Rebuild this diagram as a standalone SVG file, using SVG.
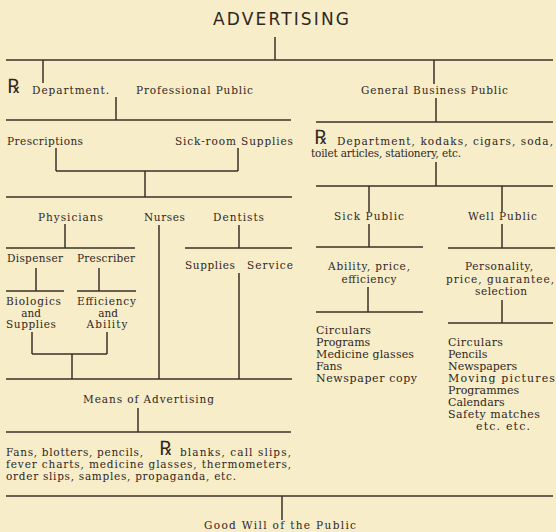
<svg xmlns="http://www.w3.org/2000/svg" width="556" height="532" viewBox="0 0 556 532">
<style>
.bg{fill:#f7edc9}
.c line{stroke:#3a3026;stroke-width:1.5;fill:none}
text{font-family:"DejaVu Serif","Liberation Serif",serif;font-size:10.5px;fill:#2f271f}
.title{font-family:"DejaVu Sans","Liberation Sans",sans-serif;font-size:17px}
.rx{font-family:"DejaVu Serif","Liberation Serif",serif;font-size:20px}
.lst{font-size:11px}
.m{text-anchor:middle}
</style>
<rect class="bg" x="0" y="0" width="556" height="532"/>
<g class="c" id="connectors">
<line x1="275" y1="37" x2="275" y2="60"/>
<line x1="6" y1="60" x2="553" y2="60"/>
<line x1="43" y1="60" x2="43" y2="83"/>
<line x1="434" y1="60" x2="434" y2="84"/>
<line x1="116" y1="97" x2="116" y2="120"/>
<line x1="6" y1="120" x2="291" y2="120"/>
<line x1="436" y1="98" x2="436" y2="122"/>
<line x1="316" y1="122" x2="553" y2="122"/>
<line x1="56" y1="148" x2="56" y2="171"/>
<line x1="238" y1="148" x2="238" y2="171"/>
<line x1="56" y1="171" x2="238" y2="171"/>
<line x1="145" y1="171" x2="145" y2="197"/>
<line x1="6" y1="197" x2="292" y2="197"/>
<line x1="65" y1="224" x2="65" y2="248"/>
<line x1="6" y1="248" x2="135" y2="248"/>
<line x1="159" y1="225" x2="159" y2="379"/>
<line x1="239" y1="225" x2="239" y2="248"/>
<line x1="185" y1="248" x2="292" y2="248"/>
<line x1="239" y1="273" x2="239" y2="379"/>
<line x1="36" y1="268" x2="36" y2="291"/>
<line x1="6" y1="291" x2="64" y2="291"/>
<line x1="99" y1="268" x2="99" y2="291"/>
<line x1="77" y1="291" x2="136" y2="291"/>
<line x1="32" y1="332" x2="32" y2="354"/>
<line x1="107" y1="332" x2="107" y2="354"/>
<line x1="32" y1="354" x2="107" y2="354"/>
<line x1="72" y1="354" x2="72" y2="379"/>
<line x1="6" y1="379" x2="292" y2="379"/>
<line x1="138" y1="408" x2="138" y2="432"/>
<line x1="6" y1="432" x2="291" y2="432"/>
<line x1="6" y1="496" x2="553" y2="496"/>
<line x1="282" y1="496" x2="282" y2="520"/>
<line x1="436" y1="162" x2="436" y2="186"/>
<line x1="316" y1="186" x2="553" y2="186"/>
<line x1="369" y1="186" x2="369" y2="212"/>
<line x1="502" y1="186" x2="502" y2="212"/>
<line x1="369" y1="224" x2="369" y2="247"/>
<line x1="316" y1="247" x2="423" y2="247"/>
<line x1="502" y1="224" x2="502" y2="248"/>
<line x1="448" y1="248" x2="555" y2="248"/>
<line x1="368" y1="287" x2="368" y2="312"/>
<line x1="316" y1="312" x2="423" y2="312"/>
<line x1="502" y1="300" x2="502" y2="323"/>
<line x1="448" y1="323" x2="553" y2="323"/>
</g>
<g id="advertising"><text class="title" x="213" y="25" textLength="136" lengthAdjust="spacing">ADVERTISING</text></g>
<g id="rx-department"><text class="rx" x="7" y="93">℞</text><text x="32" y="94" textLength="77" lengthAdjust="spacing">Department.</text></g>
<g id="professional-public"><text x="136" y="94" textLength="117" lengthAdjust="spacing">Professional Public</text></g>
<g id="general-business-public"><text x="361" y="94" textLength="147" lengthAdjust="spacing">General Business Public</text></g>
<g id="prescriptions"><text x="7" y="145" textLength="76" lengthAdjust="spacing">Prescriptions</text></g>
<g id="sick-room-supplies"><text x="175" y="145" textLength="118" lengthAdjust="spacing">Sick-room Supplies</text></g>
<g id="rx-department-general"><text class="rx" x="314" y="144">℞</text><text x="337" y="145" textLength="216" lengthAdjust="spacing">Department, kodaks, cigars, soda,</text><text x="311" y="157" textLength="150" lengthAdjust="spacing">toilet articles, stationery, etc.</text></g>
<g id="physicians"><text x="38" y="221" textLength="65" lengthAdjust="spacing">Physicians</text></g>
<g id="nurses"><text x="144" y="221" textLength="41" lengthAdjust="spacing">Nurses</text></g>
<g id="dentists"><text x="213" y="221" textLength="51" lengthAdjust="spacing">Dentists</text></g>
<g id="sick-public"><text x="334" y="220" textLength="70" lengthAdjust="spacing">Sick Public</text></g>
<g id="well-public"><text x="468" y="220" textLength="69" lengthAdjust="spacing">Well Public</text></g>
<g id="dispenser"><text x="7" y="262" textLength="56" lengthAdjust="spacing">Dispenser</text></g>
<g id="prescriber"><text x="77" y="262" textLength="58" lengthAdjust="spacing">Prescriber</text></g>
<g id="supplies"><text x="185" y="269" textLength="50" lengthAdjust="spacing">Supplies</text></g>
<g id="service"><text x="247" y="269" textLength="46" lengthAdjust="spacing">Service</text></g>
<g id="ability-price"><text class="m" x="369" y="270" textLength="82" lengthAdjust="spacing">Ability, price,</text><text class="m" x="369" y="283" textLength="55" lengthAdjust="spacing">efficiency</text></g>
<g id="personality"><text class="m" x="499" y="270" textLength="68" lengthAdjust="spacing">Personality,</text><text class="m" x="500" y="283" textLength="108" lengthAdjust="spacing">price, guarantee,</text><text class="m" x="501" y="295" textLength="52" lengthAdjust="spacing">selection</text></g>
<g id="biologics"><text x="6" y="305" textLength="55" lengthAdjust="spacing">Biologics</text><text class="m" x="31" y="317">and</text><text x="6" y="328" textLength="50" lengthAdjust="spacing">Supplies</text></g>
<g id="efficiency"><text x="77" y="305" textLength="59" lengthAdjust="spacing">Efficiency</text><text class="m" x="108" y="317">and</text><text class="m" x="107" y="328" textLength="41" lengthAdjust="spacing">Ability</text></g>
<g id="sick-list"><text class="lst" x="316" y="334" textLength="55" lengthAdjust="spacing">Circulars</text><text class="lst" x="316" y="346">Programs</text><text class="lst" x="316" y="358" textLength="98" lengthAdjust="spacing">Medicine glasses</text><text class="lst" x="316" y="370">Fans</text><text class="lst" x="316" y="382" textLength="101" lengthAdjust="spacing">Newspaper copy</text></g>
<g id="well-list"><text class="lst" x="448" y="346" textLength="55" lengthAdjust="spacing">Circulars</text><text class="lst" x="448" y="358">Pencils</text><text class="lst" x="448" y="370">Newspapers</text><text class="lst" x="448" y="382" textLength="107" lengthAdjust="spacing">Moving pictures</text><text class="lst" x="448" y="394">Programmes</text><text class="lst" x="448" y="406">Calendars</text><text class="lst" x="448" y="418" textLength="92" lengthAdjust="spacing">Safety matches</text><text class="lst" x="476" y="430" textLength="54" lengthAdjust="spacing">etc.   etc.</text></g>
<g id="means-of-advertising"><text x="83" y="403" textLength="131" lengthAdjust="spacing">Means of Advertising</text></g>
<g id="means-list"><text x="6" y="456" textLength="137" lengthAdjust="spacing">Fans, blotters, pencils,</text><text class="rx" x="159" y="455">℞</text><text x="180" y="456" textLength="111" lengthAdjust="spacing">blanks, call slips,</text><text x="6" y="468" textLength="285" lengthAdjust="spacing">fever charts, medicine glasses, thermometers,</text><text x="6" y="480" textLength="230" lengthAdjust="spacing">order slips, samples, propaganda, etc.</text></g>
<g id="good-will"><text x="204" y="529" textLength="152" lengthAdjust="spacing">Good Will of the Public</text></g>
</svg>
